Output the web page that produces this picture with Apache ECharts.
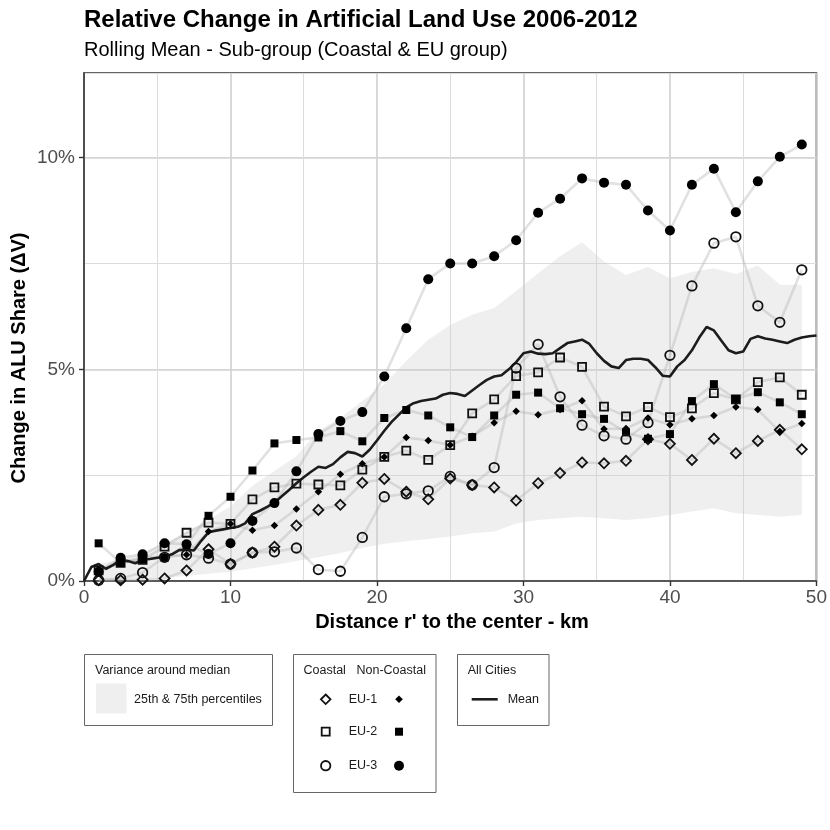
<!DOCTYPE html>
<html><head><meta charset="utf-8">
<script src="https://cdn.jsdelivr.net/npm/echarts@6/dist/echarts.min.js"></script>
<style>html,body{margin:0;padding:0;background:#fff}#c{width:830px;height:830px}</style>
</head><body><div id="c"></div>
<script>
// ---------- data (percent values) ----------
const distKm = [1,2.5,4,5.5,7,8.5,10,11.5,13,14.5,16,17.5,19,20.5,22,23.5,25,26.5,28,29.5,31,32.5,34,35.5,37,38.5,40,41.5,43,44.5,46,47.5,49];
const eu1Coastal    = [0.02,0.02,0.03,0.06,0.25,0.75,0.40,0.67,0.81,1.31,1.68,1.80,2.32,2.41,2.11,1.93,2.42,2.27,2.21,1.90,2.31,2.55,2.80,2.78,2.84,3.35,3.24,2.86,3.36,3.02,3.31,3.57,3.11];
const eu1NonCoastal = [0.20,0.45,0.55,0.58,0.62,1.17,1.35,1.20,1.31,1.70,2.11,2.52,2.77,2.93,3.39,3.32,3.21,3.42,3.74,4.01,3.93,4.05,4.26,3.59,3.60,3.85,3.69,3.83,3.91,4.11,4.05,3.53,3.72];
const eu2Coastal    = [0.25,0.43,0.50,0.81,1.14,1.38,1.35,1.93,2.21,2.30,2.28,2.26,2.63,2.93,3.08,2.86,3.21,3.96,4.29,4.84,4.93,5.28,5.06,4.12,3.89,4.11,3.87,4.08,4.44,4.29,4.70,4.81,4.40];
const eu2NonCoastal = [0.89,0.43,0.52,0.55,0.85,1.54,1.99,2.61,3.25,3.33,3.39,3.54,3.30,3.85,4.04,3.91,3.63,3.40,3.91,4.40,4.45,4.08,3.94,3.83,3.51,3.36,3.47,4.25,4.65,4.30,4.46,4.22,3.94];
const eu3Coastal    = [0.02,0.06,0.20,0.56,0.62,0.54,0.40,0.67,0.69,0.78,0.27,0.23,1.03,1.99,2.06,2.13,2.47,2.27,2.68,5.03,5.59,4.35,3.68,3.43,3.35,3.74,5.33,6.97,7.98,8.13,6.50,6.11,7.35];
const eu3NonCoastal = [0.22,0.55,0.63,0.89,0.87,0.64,0.89,1.42,1.84,2.59,3.47,3.78,3.99,4.83,5.97,7.13,7.50,7.50,7.67,8.05,8.70,9.03,9.51,9.41,9.36,8.75,8.28,9.36,9.74,8.71,9.44,10.02,10.31];
const bandLower = [0.02,0.03,0.05,0.08,0.12,0.17,0.22,0.30,0.38,0.47,0.56,0.66,0.78,0.88,0.94,0.99,1.05,1.13,1.17,1.36,1.44,1.48,1.52,1.48,1.44,1.48,1.56,1.64,1.72,1.60,1.56,1.52,1.56];
const bandUpper = [0.40,0.50,0.65,0.90,1.15,1.45,1.76,2.25,2.60,2.95,3.55,3.85,4.25,4.65,5.20,5.70,6.05,6.29,6.45,6.85,7.27,7.67,8.00,7.55,7.23,7.42,7.15,7.30,7.39,7.25,7.45,7.00,7.00];
const meanDist = [0,0.5,1,1.5,2,2.5,3,3.5,4,4.5,5,5.5,6,6.5,7,7.5,8,8.5,9,9.5,10,10.5,11,11.5,12,12.5,13,13.5,14,14.5,15,15.5,16,16.5,17,17.5,18,18.5,19,19.5,20,20.5,21,21.5,22,22.5,23,23.5,24,24.5,25,25.5,26,26.5,27,27.5,28,28.5,29,29.5,30,30.5,31,31.5,32,32.5,33,33.5,34,34.5,35,35.5,36,36.5,37,37.5,38,38.5,39,39.5,40,40.5,41,41.5,42,42.5,43,43.5,44,44.5,45,45.5,46,46.5,47,47.5,48,48.5,49,49.5,50];
const meanValues = [0.00,0.33,0.40,0.29,0.38,0.50,0.47,0.42,0.50,0.52,0.55,0.57,0.63,0.73,0.74,0.72,0.95,1.15,1.19,1.22,1.25,1.28,1.36,1.58,1.66,1.75,1.85,2.00,2.15,2.31,2.45,2.58,2.70,2.67,2.76,2.92,3.05,3.02,2.94,3.10,3.32,3.55,3.76,3.93,4.10,4.20,4.25,4.28,4.31,4.40,4.44,4.42,4.37,4.50,4.63,4.75,4.83,4.86,5.00,5.17,5.38,5.42,5.37,5.36,5.38,5.50,5.62,5.66,5.70,5.60,5.38,5.20,5.07,5.03,5.22,5.25,5.25,5.22,5.05,4.85,4.83,5.07,5.22,5.45,5.75,6.00,5.92,5.68,5.45,5.38,5.42,5.72,5.78,5.73,5.70,5.66,5.62,5.70,5.75,5.78,5.80];
const xTicks = [0,10,20,30,40,50];
const yTicks = [0,5,10];

// ---------- chart ----------
const FONT = '"Liberation Sans", Arial, Helvetica, sans-serif';
const INK = '#111';
const pairs = (xs, ys) => xs.map((x, i) => [x, ys[i]]);

const groups = [
  {name:'EU-1 Coastal', data:eu1Coastal, symbol:'diamond', size:10, open:true},
  {name:'EU-1 Non-Coastal', data:eu1NonCoastal, symbol:'diamond', size:7.5, open:false},
  {name:'EU-2 Coastal', data:eu2Coastal, symbol:'rect', size:8, open:true},
  {name:'EU-2 Non-Coastal', data:eu2NonCoastal, symbol:'rect', size:8, open:false},
  {name:'EU-3 Coastal', data:eu3Coastal, symbol:'circle', size:9.5, open:true},
  {name:'EU-3 Non-Coastal', data:eu3NonCoastal, symbol:'circle', size:10, open:false}
];

const series = [{
  type:'custom', name:'25th & 75th percentiles', silent:true, z:1, clip:true,
  data:[0],
  renderItem:function(params, api){
    const pts = [];
    for (let i = 0; i < distKm.length; i++) pts.push(api.coord([distKm[i], bandUpper[i]]));
    for (let i = distKm.length - 1; i >= 0; i--) pts.push(api.coord([distKm[i], bandLower[i]]));
    return {type:'polygon', shape:{points:pts}, style:{fill:'rgba(205,205,205,0.32)'}};
  }
}];
groups.forEach(g => series.push({
  type:'line', name:g.name + ' line', data:pairs(distKm, g.data), symbol:'none', silent:true,
  lineStyle:{color:'rgba(175,175,175,0.38)', width:2.6}, z:2
}));
series.push({type:'line', name:'Mean', data:pairs(meanDist, meanValues), symbol:'none', silent:true,
  lineStyle:{color:'#1c1c1c', width:2.6}, z:3});
groups.forEach(g => series.push({
  type:'scatter', name:g.name, data:pairs(distKm, g.data), symbol:g.symbol, symbolSize:g.size, silent:true,
  itemStyle: g.open ? {color:'rgba(0,0,0,0)', borderColor:INK, borderWidth:1.8, opacity:1} : {color:'#000', opacity:1},
  z:4
}));

// legend helpers (graphic, not data)
function diamond(cx, cy, r, open){
  return {type:'polygon', shape:{points:[[cx,cy-r],[cx+r,cy],[cx,cy+r],[cx-r,cy]]},
    style: open ? {fill:'none', stroke:INK, lineWidth:1.8} : {fill:'#000'}};
}
function square(cx, cy, s, open){
  return {type:'rect', shape:{x:cx-s/2, y:cy-s/2, width:s, height:s},
    style: open ? {fill:'none', stroke:INK, lineWidth:1.8} : {fill:'#000'}};
}
function circ(cx, cy, r, open){
  return {type:'circle', shape:{cx, cy, r},
    style: open ? {fill:'none', stroke:INK, lineWidth:1.8} : {fill:'#000'}};
}
function txt(text, x, y, size, opts){
  return Object.assign({type:'text', x, y, style:Object.assign({text, fontSize:size, fontFamily:FONT,
    fill:'#000', align:'left', verticalAlign:'middle'}, (opts && opts.style) || {})},
    opts && opts.rotation !== undefined ? {rotation:opts.rotation} : {});
}
const LS = 12.5;
const TC = '#1a1a1a';
const graphic = [
  txt('Relative Change in Artificial Land Use 2006-2012', 84, 20, 24, {style:{fontWeight:'bold'}}),
  txt('Rolling Mean - Sub-group (Coastal & EU group)', 84, 50, 20),
  txt('Distance r\' to the center - km', 452, 622, 20, {style:{fontWeight:'bold', align:'center'}}),
  txt('Change in ALU Share (\u0394V)', 19, 358, 20, {rotation:Math.PI/2, style:{fontWeight:'bold', align:'center'}}),
  // box 1
  {type:'rect', shape:{x:84.5, y:654.5, width:188, height:71}, style:{fill:'#fff', stroke:'#666', lineWidth:1}},
  txt('Variance around median', 95, 671, LS, {style:{fill:TC}}),
  {type:'rect', shape:{x:96, y:683.5, width:30.5, height:30}, style:{fill:'#efefef'}},
  txt('25th & 75th percentiles', 134, 699.5, LS, {style:{fill:TC}}),
  // box 2
  {type:'rect', shape:{x:293.5, y:654.5, width:142.5, height:138}, style:{fill:'#fff', stroke:'#666', lineWidth:1}},
  txt('Coastal', 303.5, 671, LS, {style:{fill:TC}}),
  txt('Non-Coastal', 356.5, 671, LS, {style:{fill:TC}}),
  diamond(325.7, 699.3, 4.8, true), txt('EU-1', 348.7, 699.3, LS, {style:{fill:TC}}), diamond(399, 699.3, 3.8, false),
  square(325.7, 731.7, 8, true), txt('EU-2', 348.7, 731.7, LS, {style:{fill:TC}}), square(399, 731.7, 8, false),
  circ(325.7, 765.7, 4.7, true), txt('EU-3', 348.7, 765.7, LS, {style:{fill:TC}}), circ(399, 765.7, 5, false),
  // box 3
  {type:'rect', shape:{x:457.5, y:654.5, width:91.5, height:71}, style:{fill:'#fff', stroke:'#666', lineWidth:1}},
  txt('All Cities', 467.7, 671, LS, {style:{fill:TC}}),
  {type:'line', shape:{x1:471.7, y1:699.3, x2:497.7, y2:699.3}, style:{stroke:'#1c1c1c', lineWidth:2.6}},
  txt('Mean', 507.7, 699.3, LS, {style:{fill:TC}})
];

const axisLabelStyle = {fontSize:19, color:'#4d4d4d', fontFamily:FONT};
const option = {
  animation:false,
  backgroundColor:'#fff',
  grid:{left:84, right:10, top:73, bottom:249, show:true, borderColor:'#333', borderWidth:1.5, backgroundColor:'rgba(0,0,0,0)'},
  xAxis:[{type:'value', min:0, max:50, interval:10,
    axisLine:{show:true, onZero:false, lineStyle:{color:'#333', width:1.6}},
    axisTick:{show:true, length:5, lineStyle:{color:'#333', width:1.4}, customValues:xTicks},
    axisLabel:Object.assign({margin:7, customValues:xTicks}, axisLabelStyle),
    splitLine:{show:true, lineStyle:{color:'#d3d3d3', width:1.7}},
    minorTick:{show:false, splitNumber:2},
    minorSplitLine:{show:true, lineStyle:{color:'#dcdcdc', width:1}}}],
  yAxis:[
    {type:'value', min:0, max:12, interval:2.5, position:'right',
     axisLine:{show:false}, axisTick:{show:false}, axisLabel:{show:false},
     splitLine:{show:true, lineStyle:{color:'#dcdcdc', width:1}}},
    {type:'value', min:0, max:12, interval:5, position:'left',
     axisLine:{show:true, onZero:false, lineStyle:{color:'#333', width:1.6}},
     axisTick:{show:true, length:5, lineStyle:{color:'#333', width:1.4}, customValues:yTicks},
     axisLabel:Object.assign({margin:9, customValues:yTicks, formatter:v => (v === 12 ? '' : v + '%')}, axisLabelStyle),
     splitLine:{show:true, lineStyle:{color:'#d3d3d3', width:1.7}}}
  ],
  graphic:graphic,
  series:series
};
const chart = echarts.init(document.getElementById('c'));
chart.setOption(option);
</script>
</body></html>
